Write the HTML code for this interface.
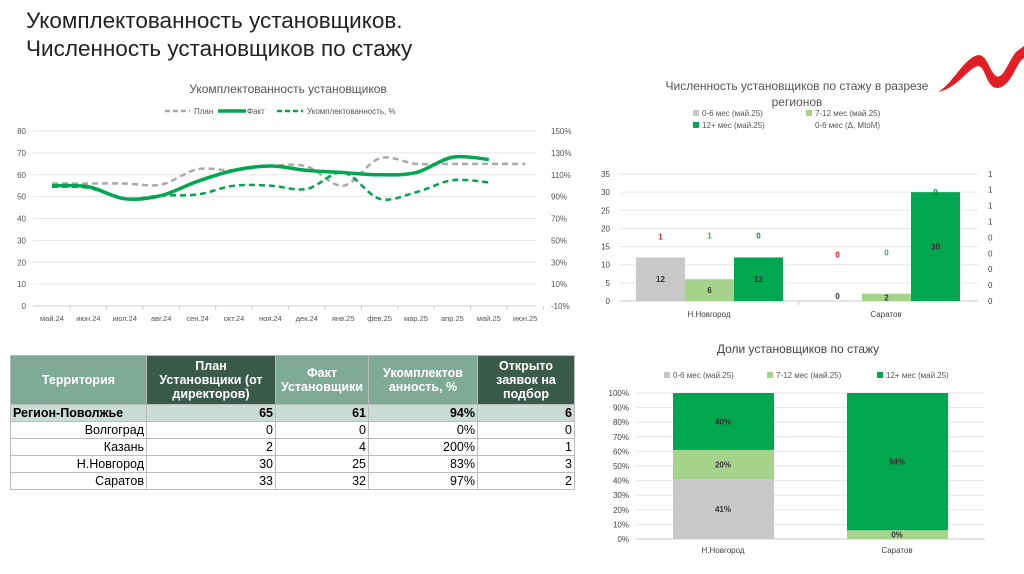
<!DOCTYPE html>
<html><head><meta charset="utf-8">
<style>
body{margin:0;width:1024px;height:574px;background:#fff;overflow:hidden;position:relative;font-family:"Liberation Sans","DejaVu Sans",sans-serif;}
.title{position:absolute;left:26px;top:7px;font-size:22.5px;line-height:28px;color:#222;}
svg{position:absolute;left:0;top:0;}
table{position:absolute;left:10px;top:355px;border-collapse:collapse;font-size:12.5px;}
td,th{border:1px solid #bbb;padding:0 2px;height:16px;}
th{color:#fff;font-weight:bold;height:48px;line-height:14px;font-size:12.5px;}
th.l{background:#7faa98;} th.d{background:#3a5a4c;}
tr.reg td{background:#cadcd3;font-weight:bold;}
td{text-align:right;}
</style></head><body>
<div class="title">Укомплектованность установщиков.<br>Численность установщиков по стажу</div>
<svg width="1024" height="574">
<path d="M938 92 C952 84,962 62,975 56 C987 51,988 70,996 76 C1003 80,1008 62,1016 52 L1024 46 L1024 58 C1016 62,1012 86,998 88 C986 89,986 66,978 66 C968 68,958 88,938 92 Z" fill="#e31e24"/>
<g id="line"></g>
<g id="bar"></g>
<g id="stack"></g>
</svg>
<table>
<tr><th class="l" style="width:131px">Территория</th><th class="d" style="width:124px">План<br>Установщики (от<br>директоров)</th><th class="l" style="width:88px">Факт<br>Установщики</th><th class="l" style="width:104px">Укомплектов<br>анность, %</th><th class="d" style="width:92px">Открыто<br>заявок на<br>подбор</th></tr>
<tr class="reg"><td style="text-align:left">Регион-Поволжье</td><td>65</td><td>61</td><td>94%</td><td>6</td></tr>
<tr><td>Волгоград</td><td>0</td><td>0</td><td>0%</td><td>0</td></tr>
<tr><td>Казань</td><td>2</td><td>4</td><td>200%</td><td>1</td></tr>
<tr><td>Н.Новгород</td><td>30</td><td>25</td><td>83%</td><td>3</td></tr>
<tr><td>Саратов</td><td>33</td><td>32</td><td>97%</td><td>2</td></tr>
</table>
<script>
const months=["май.24","июн.24","июл.24","авг.24","сен.24","окт.24","ноя.24","дек.24","янв.25","фев.25","мар.25","апр.25","май.25","июн.25"];
const planVals=[56,56,56,55.5,62.5,62,64,63.8,55,67.5,65,65,65,65];
const factVals=[55,54.5,49,50.5,57,62,64,62,61,60,61,68,67];
const pctVals=[99,98,88,91,92,100,100,97,112,88,94,105,103];
const leftTicks=[0,10,20,30,40,50,60,70,80];
const rightTicks=["-10%","10%","30%","50%","70%","90%","110%","130%","150%"];
const regions=["Н.Новгород","Саратов"];
const cnt06=[12,0],cnt712=[6,2],cnt12=[12,30];
const deltaVals=[[1,1,0],[0,0,0]];
const deltaPos=[[0.62,0.63,0.63],[0.45,0.47,1.04]];
const barTicks=[0,5,10,15,20,25,30,35];
const barRightTicks=["0","0","0","0","0","1","1","1","1"];
const share06=[41,0],share712=[20,6],share12=[40,94];
const shareLabels=[["41%","20%","40%"],["","0%","94%"]];
const NS="http://www.w3.org/2000/svg";
function mk(p,t,a,txt){const e=document.createElementNS(NS,t);for(const k in a)e.setAttribute(k,a[k]);if(txt!==undefined)e.textContent=txt;p.appendChild(e);return e;}
function smooth(pts){let d="M"+pts[0][0]+" "+pts[0][1];for(let i=0;i<pts.length-1;i++){const p0=pts[i-1]||pts[i],p1=pts[i],p2=pts[i+1],p3=pts[i+2]||p2;const c1x=p1[0]+(p2[0]-p0[0])/6,c1y=p1[1]+(p2[1]-p0[1])/6,c2x=p2[0]-(p3[0]-p1[0])/6,c2y=p2[1]-(p3[1]-p1[1])/6;d+=` C${c1x} ${c1y},${c2x} ${c2y},${p2[0]} ${p2[1]}`;}return d;}
const L=document.getElementById('line');
const lx=i=>52+i*36.4, ly=v=>306-v*175/80, lyp=p=>ly((p+10)/2);
mk(L,'text',{x:288,y:93,'font-size':12,'text-anchor':'middle',fill:'#555'},"Укомплектованность установщиков");
let t;
t=mk(L,'line',{x1:165,y1:111,x2:190,y2:111,stroke:'#aaa','stroke-width':2.5,'stroke-dasharray':'5 3'});
mk(L,'text',{x:194,y:114,'font-size':8,fill:'#555'},"План");
mk(L,'line',{x1:218,y1:111,x2:246,y2:111,stroke:'#00a650','stroke-width':3.5});
mk(L,'text',{x:247,y:114,'font-size':8,fill:'#555'},"Факт");
mk(L,'line',{x1:277,y1:111,x2:303,y2:111,stroke:'#00a650','stroke-width':2.5,'stroke-dasharray':'5 3'});
mk(L,'text',{x:307,y:114,'font-size':8,fill:'#555'},"Укомплектованность, %");
leftTicks.forEach((v,i)=>{const y=ly(v);const g=mk(L,'line',{x1:33,y1:y,x2:536,y2:y,stroke:i==0?'#ccc':'#e6e6e6','stroke-width':1});
mk(L,'text',{x:26,y:y+3,'font-size':8,'text-anchor':'end',fill:'#555'},v);
mk(L,'text',{x:551,y:y+3,'font-size':8,fill:'#555'},rightTicks[i]);});
months.forEach((m,i)=>{mk(L,'text',{x:lx(i),y:321,'font-size':7.5,'text-anchor':'middle',fill:'#555'},m);mk(L,'line',{x1:lx(i)+18.2,y1:306,x2:lx(i)+18.2,y2:310,stroke:'#ccc'});});
t=mk(L,'path',{d:smooth(planVals.map((v,i)=>[lx(i),ly(v)])),fill:'none',stroke:'#aaa','stroke-width':2.5,'stroke-dasharray':'6 4'});
t=mk(L,'path',{d:smooth(pctVals.map((v,i)=>[lx(i),lyp(v)])),fill:'none',stroke:'#00a650','stroke-width':2.5,'stroke-dasharray':'6 4'});
t=mk(L,'path',{d:smooth(factVals.map((v,i)=>[lx(i),ly(v)])),fill:'none',stroke:'#00a650','stroke-width':3.5});
const B=document.getElementById('bar');
const by=v=>301-v*127/35, byd=v=>301-v*127/1.2;
mk(B,'text',{x:797,y:90,'font-size':12,'text-anchor':'middle',fill:'#555'},"Численность установщиков по стажу в разрезе");
mk(B,'text',{x:797,y:106,'font-size':12,'text-anchor':'middle',fill:'#555'},"регионов");
const leg=[[693,116,'#c8c8c8',"0-6 мес (май.25)"],[806,116,'#a5d38c',"7-12 мес (май.25)"],[693,128,'#00a650',"12+ мес (май.25)"],[806,128,'none',"0-6 мес (Δ, MtoM)"]];
leg.forEach(l=>{if(l[2]!='none')mk(B,'rect',{x:l[0],y:l[1]-6,width:6,height:6,fill:l[2]});mk(B,'text',{x:l[0]+9,y:l[1],'font-size':8,fill:'#555'},l[3]);});
barTicks.forEach(v=>{const y=by(v);mk(B,'line',{x1:620,y1:y,x2:978,y2:y,stroke:v==0?'#ccc':'#e6e6e6'});mk(B,'text',{x:610,y:y+3,'font-size':8,'text-anchor':'end',fill:'#444'},v);});
barRightTicks.forEach((s,i)=>{mk(B,'text',{x:988,y:301-i*15.9+3,'font-size':8,fill:'#444'},s);});
const cols=['#c8c8c8','#a5d38c','#00a650'],dcol=['#e31e24','#2bb05a','#0c8a3c'];
regions.forEach((r,g)=>{const x0=636+g*177;
[cnt06[g],cnt712[g],cnt12[g]].forEach((v,k)=>{const x=x0+k*49;const b=mk(B,'rect',{x:x,y:by(v),width:49,height:301-by(v),fill:cols[k]});
mk(B,'text',{x:x+24.5,y:(by(v)+301)/2+3+(v==0?-5:0),'font-size':8,'font-weight':'bold','text-anchor':'middle',fill:'#333'},v);
mk(B,'text',{x:x+24.5,y:byd(deltaPos[g][k])+4,'font-size':8,'font-weight':'bold','text-anchor':'middle',fill:dcol[k]},deltaVals[g][k]);});
mk(B,'text',{x:x0+73,y:317,'font-size':8,'text-anchor':'middle',fill:'#444'},r);});
mk(B,'line',{x1:799,y1:301,x2:799,y2:305,stroke:'#ccc'});
const S=document.getElementById('stack');
const sy=v=>539-v*146/100;
mk(S,'text',{x:798,y:353,'font-size':12,'text-anchor':'middle',fill:'#444'},"Доли установщиков по стажу");
[[664,'#c8c8c8',"0-6 мес (май.25)"],[767,'#a5d38c',"7-12 мес (май.25)"],[877,'#00a650',"12+ мес (май.25)"]].forEach(l=>{mk(S,'rect',{x:l[0],y:372,width:6,height:6,fill:l[1]});mk(S,'text',{x:l[0]+9,y:378,'font-size':8,fill:'#555'},l[2]);});
for(let v=0;v<=100;v+=10){const y=sy(v);mk(S,'line',{x1:636,y1:y,x2:985,y2:y,stroke:v==0?'#ccc':'#e6e6e6'});mk(S,'text',{x:629,y:y+3,'font-size':8,'text-anchor':'end',fill:'#444'},v+'%');}
regions.forEach((r,g)=>{const x=673+g*174;let acc=0;
[share06[g],share712[g],share12[g]].forEach((v,k)=>{const top=Math.min(100,acc+v);const b=mk(S,'rect',{x:x,y:sy(top),width:101,height:sy(acc)-sy(top),fill:cols[k]});
if(shareLabels[g][k])mk(S,'text',{x:x+50,y:Math.min(sy((acc+top)/2)+3,542),'font-size':8,'font-weight':'bold','text-anchor':'middle',fill:'#333'},shareLabels[g][k]);acc=top;});
mk(S,'text',{x:x+50,y:553,'font-size':8,'text-anchor':'middle',fill:'#444'},r);});
</script>
</body></html>
